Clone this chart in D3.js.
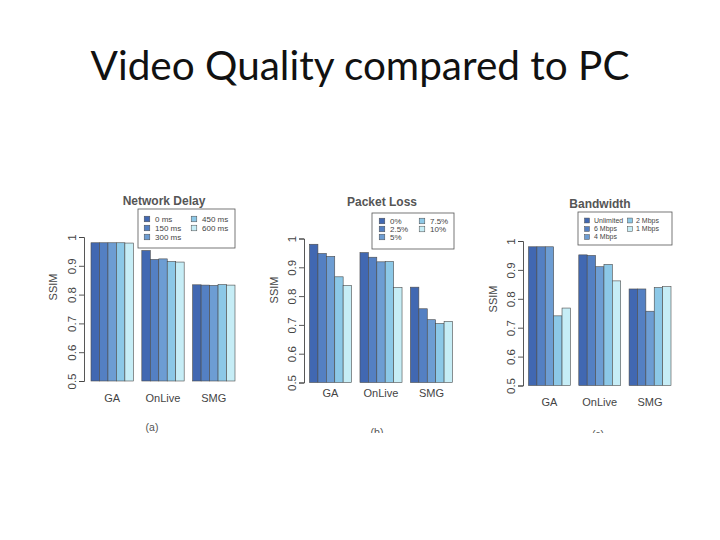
<!DOCTYPE html>
<html>
<head>
<meta charset="utf-8">
<script src="https://cdn.jsdelivr.net/npm/d3@7"></script>
<style>
  body { margin: 0; background: #fff; }
  svg { display: block; }
</style>
</head>
<body>
<div id="plot"></div>
<script>
var groups = ["GA", "OnLive", "SMG"];
var yTicks = [0.5, 0.6, 0.7, 0.8, 0.9, 1];
var yTickLabels = ["0.5", "0.6", "0.7", "0.8", "0.9", "1"];
var captions = ["(a)", "(b)", "(c)"];
var titles = ["Network Delay", "Packet Loss", "Bandwidth"];

var delayKeys = ["0 ms", "150 ms", "300 ms", "450 ms", "600 ms"];
var delayValues = [
  [0.980, 0.980, 0.980, 0.980, 0.979],
  [0.953, 0.922, 0.924, 0.915, 0.913],
  [0.834, 0.833, 0.832, 0.835, 0.833]
];
var lossKeys = ["0%", "2.5%", "5%", "7.5%", "10%"];
var lossValues = [
  [0.980, 0.948, 0.938, 0.867, 0.837],
  [0.951, 0.935, 0.919, 0.920, 0.830],
  [0.831, 0.756, 0.718, 0.705, 0.712]
];
var bwKeys = ["Unlimited", "6 Mbps", "4 Mbps", "2 Mbps", "1 Mbps"];
var bwValues = [
  [0.980, 0.980, 0.980, 0.741, 0.768],
  [0.952, 0.950, 0.911, 0.919, 0.862],
  [0.834, 0.834, 0.757, 0.839, 0.842]
];

var colors = ["#4168b2", "#5480c3", "#6d9dd3", "#8cc8e7", "#c6edf6"];

var width = 720, height = 540;
var svg = d3.select("#plot").append("svg")
  .attr("width", width)
  .attr("height", height);

// slide title
svg.append("text")
  .attr("x", 360)
  .attr("y", 80)
  .attr("text-anchor", "middle")
  .style("font-family", "Lato, 'Open Sans', sans-serif")
  .style("font-size", "40.5px")
  .attr("fill", "#111")
  .text("Video Quality compared to PC");

// layout of each panel
var panels = [
  { keys: delayKeys, values: delayValues, axisX: 84, bx0: 91, bx1: 235, yTop: 237, yBot: 381,
    titleX: 164, titleY: 205, catY: 402, capX: 152, capY: 431, ssimX: 57, ssimY: 287, clipY: 440,
    leg: { x: 138, y: 209, w: 97, h: 39, fs: 8, c1s: 147, c1t: 155, c2s: 194, c2t: 202, rows: [219, 228, 237] } },
  { keys: lossKeys, values: lossValues, axisX: 304, bx0: 309.5, bx1: 452.5, yTop: 238.5, yBot: 382.5,
    titleX: 382, titleY: 206, catY: 396.5, capX: 377, capY: 436, ssimX: 278, ssimY: 290, clipY: 433,
    leg: { x: 372, y: 213, w: 82, h: 36, fs: 8, c1s: 382, c1t: 390, c2s: 422, c2t: 430, rows: [221, 229, 237] } },
  { keys: bwKeys, values: bwValues, axisX: 523, bx0: 528.5, bx1: 671, yTop: 241, yBot: 385.5,
    titleX: 600, titleY: 208, catY: 405.5, capX: 598, capY: 438, ssimX: 497, ssimY: 299, clipY: 433,
    leg: { x: 578, y: 212, w: 94, h: 33, fs: 7, c1s: 587, c1t: 594, c2s: 630, c2t: 636, rows: [220.5, 229, 237] } }
];

var font = "'Liberation Sans', Arial, sans-serif";

panels.forEach(function(p, pi) {
  var clipId = "clip" + pi;
  svg.append("clipPath").attr("id", clipId)
    .append("rect").attr("x", 0).attr("y", 0).attr("width", width).attr("height", p.clipY);
  var g = svg.append("g").attr("clip-path", "url(#" + clipId + ")");

  var y = d3.scaleLinear().domain([0.5, 1]).range([p.yBot, p.yTop]);
  var x0 = d3.scaleBand().domain(groups).range([p.bx0, p.bx1])
    .paddingInner(1 / 6).paddingOuter(0);
  var x1 = d3.scaleBand().domain(p.keys).range([0, x0.bandwidth()]);
  var color = d3.scaleOrdinal().domain(p.keys).range(colors);

  // bars
  g.append("g").selectAll("g")
    .data(p.values)
    .enter().append("g")
      .attr("transform", function(d, i) { return "translate(" + x0(groups[i]) + ",0)"; })
    .selectAll("rect")
    .data(function(d) { return d.map(function(v, j) { return { key: p.keys[j], value: v }; }); })
    .enter().append("rect")
      .attr("x", function(d) { return x1(d.key); })
      .attr("y", function(d) { return y(d.value); })
      .attr("width", x1.bandwidth())
      .attr("height", function(d) { return y(0.5) - y(d.value); })
      .attr("fill", function(d) { return color(d.key); })
      .attr("stroke", "#4a4a4a")
      .attr("stroke-width", 0.6);

  // y axis, R style with vertical labels
  var ax = g.append("g")
    .attr("transform", "translate(" + p.axisX + ",0)")
    .call(d3.axisLeft(y).tickValues(yTicks).tickSize(5)
      .tickFormat(function(d, i) { return yTickLabels[i]; }));
  ax.select(".domain").attr("stroke", "#444").attr("stroke-width", 0.9);
  ax.selectAll(".tick line").attr("stroke", "#444").attr("stroke-width", 0.9);
  ax.selectAll(".tick text")
    .attr("x", null).attr("dy", null)
    .attr("transform", "translate(-8,0) rotate(-90)")
    .attr("text-anchor", "middle")
    .style("font-family", font)
    .style("font-size", "11.5px")
    .attr("fill", "#444");

  // category labels
  g.selectAll(".cat")
    .data(groups)
    .enter().append("text")
      .attr("class", "cat")
      .attr("x", function(d) { return x0(d) + x0.bandwidth() / 2; })
      .attr("y", p.catY)
      .attr("text-anchor", "middle")
      .style("font-family", font)
      .style("font-size", "11px")
      .attr("fill", "#444")
      .text(function(d) { return d; });

  // axis label
  g.append("text")
    .attr("transform", "translate(" + p.ssimX + "," + p.ssimY + ") rotate(-90)")
    .attr("text-anchor", "middle")
    .style("font-family", font)
    .style("font-size", "11px")
    .attr("fill", "#444")
    .text("SSIM");

  // panel title
  g.append("text")
    .attr("x", p.titleX)
    .attr("y", p.titleY)
    .attr("text-anchor", "middle")
    .style("font-family", font)
    .style("font-size", "12px")
    .style("font-weight", "bold")
    .attr("fill", "#555")
    .text(titles[pi]);

  // caption
  g.append("text")
    .attr("x", p.capX)
    .attr("y", p.capY)
    .attr("text-anchor", "middle")
    .style("font-family", font)
    .style("font-size", "10.5px")
    .attr("fill", "#555")
    .text(captions[pi]);

  // legend
  var L = p.leg;
  g.append("rect")
    .attr("x", L.x).attr("y", L.y).attr("width", L.w).attr("height", L.h)
    .attr("fill", "#fff").attr("stroke", "#555").attr("stroke-width", 0.8);
  var sq = L.fs * 0.7;
  p.keys.forEach(function(k, i) {
    var col = i < 3 ? 0 : 1;
    var row = i < 3 ? i : i - 3;
    var sx = col ? L.c2s : L.c1s, tx = col ? L.c2t : L.c1t, cy = L.rows[row];
    g.append("rect")
      .attr("x", sx - sq / 2).attr("y", cy - sq / 2)
      .attr("width", sq).attr("height", sq)
      .attr("fill", color(k)).attr("stroke", "#4a4a4a").attr("stroke-width", 0.5);
    g.append("text")
      .attr("x", tx).attr("y", cy)
      .attr("dy", "0.35em")
      .style("font-family", font)
      .style("font-size", L.fs + "px")
      .attr("fill", "#444")
      .text(k);
  });
});
</script>
</body>
</html>
